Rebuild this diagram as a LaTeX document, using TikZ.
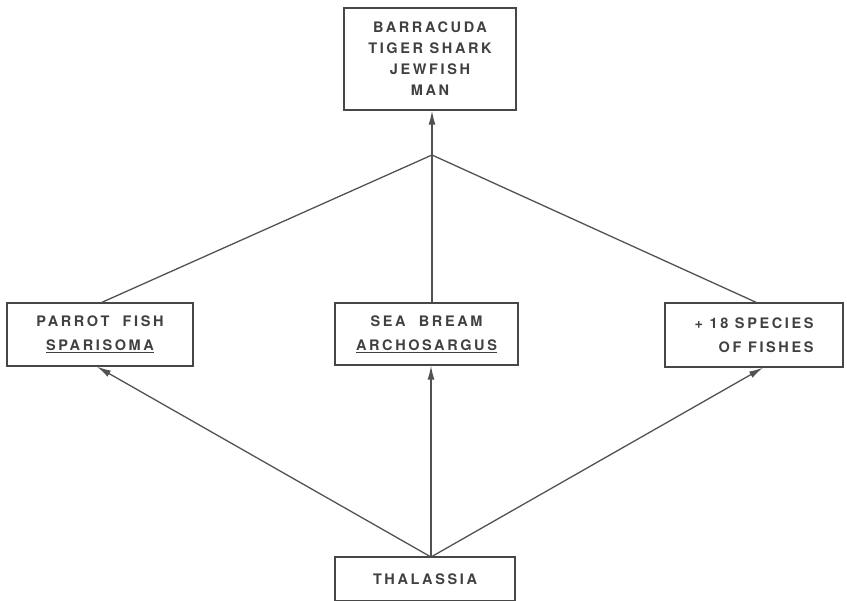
\documentclass[tikz,border=0pt]{standalone}
\usepackage{fontspec}
\newfontfamily\letterfont[LetterSpace=18]{TeX Gyre Heros Bold}
\usetikzlibrary{arrows.meta}
\tikzset{
  box/.style={draw=black!72,line width=1.4pt,inner sep=0pt,text=black!75,
    font=\letterfont\fontsize{14.5}{24}\selectfont},
  link/.style={draw=black!68,line width=1.3pt},
  feed/.style={link,-{Latex[length=14pt,width=7pt]}}
}
\begin{document}
\begin{tikzpicture}[x=1pt,y=-1pt]
        \useasboundingbox (0,0) rectangle (847,601);
        %% top predators
        \node[box,align=center,minimum width=172pt,minimum height=102pt,
              font=\letterfont\fontsize{14.5}{21}\selectfont] (predators) at (430,59)
            {BARRACUDA\\TIGER SHARK\\JEWFISH\\MAN};
        %% fishes
        \node[box,align=center,minimum width=186pt,minimum height=63pt] (parrot) at (100,334.5)
            {PARROT\ \ FISH\\\underline{SPARISOMA}};
        \node[box,align=center,minimum width=183pt,minimum height=62pt] (bream) at (426.5,334)
            {SEA\ \ BREAM\\\underline{ARCHOSARGUS}};
        \node[box,align=right,minimum width=178pt,minimum height=64pt] (others) at (754,335)
            {+ 18 SPECIES\\OF FISHES};
        %% sea grass
        \node[box,minimum width=180pt,minimum height=44pt] (thalassia) at (425,579) {THALASSIA};
        %% junctions
        \coordinate (join) at (432,155);
        \coordinate (apex) at (431,557);
        \foreach \fish in {parrot,others}
            \draw[link] (join) -- ([xshift=2pt]\fish.north);
        \draw[link] (join) -- (join |- bream.north);
        \draw[feed] (join) -- (join |- predators.south);
        %% Thalassia eaten by the fishes
        \draw[feed] (apex) -- ([xshift=-3pt]parrot.south);
        \draw[feed] (apex) -- (apex |- bream.south);
        \draw[feed] (apex) -- ([xshift=9pt]others.south);
    \end{tikzpicture}
\end{document}
